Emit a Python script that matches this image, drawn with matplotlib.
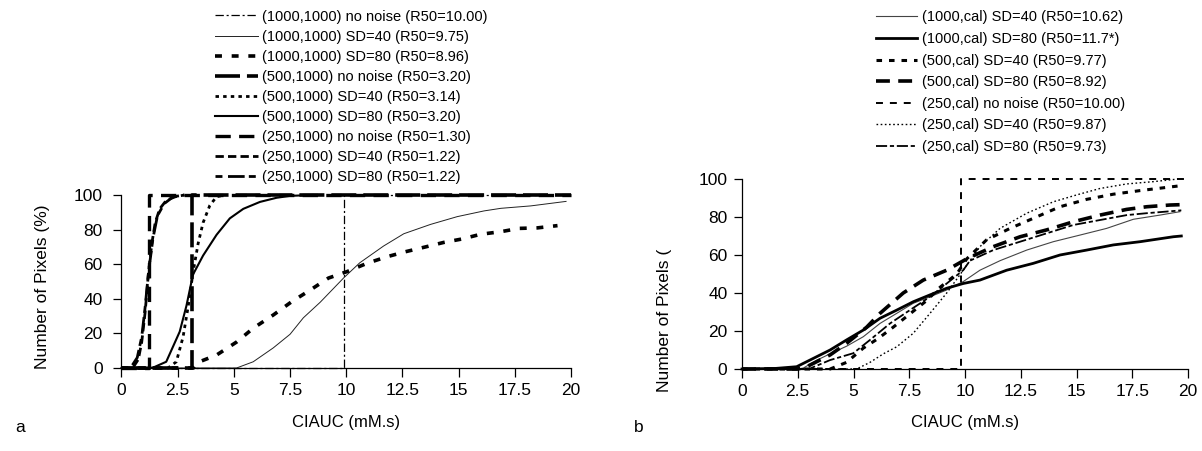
import matplotlib
matplotlib.use("Agg")
import matplotlib.pyplot as plt

plt.rcParams['font.family'] = ['Liberation Sans', 'DejaVu Sans']
plt.rcParams['lines.scale_dashes'] = False

# ---------------- Panel a data ----------------
a_labels = [
    "(1000,1000) no noise (R50=10.00)",
    "(1000,1000) SD=40 (R50=9.75)",
    "(1000,1000) SD=80 (R50=8.96)",
    "(500,1000) no noise (R50=3.20)",
    "(500,1000) SD=40 (R50=3.14)",
    "(500,1000) SD=80 (R50=3.20)",
    "(250,1000) no noise (R50=1.30)",
    "(250,1000) SD=40 (R50=1.22)",
    "(250,1000) SD=80 (R50=1.22)",
]
a1000_nn_x = [0, 9.88, 9.88, 20]
a1000_nn_y = [0, 0, 100, 100]
a1000_40_x = [0, 4.5, 5.12, 5.86, 6.75, 7.5, 8.09, 8.84, 9.88, 10.6, 11.66, 12.56, 13.75, 14.94, 16.13, 16.88, 18.21, 19.78]
a1000_40_y = [0, 0, 0, 3.6, 11.6, 19.5, 29, 38, 52, 60.8, 70.5, 77.6, 83, 87.5, 90.8, 92.3, 93.7, 96.3]
a1000_80_x = [0, 3.2, 3.41, 4.23, 5.12, 5.86, 6.75, 7.57, 8.39, 9.21, 10.03, 10.92, 11.81, 12.63, 13.53, 14.34, 15.16, 15.98, 16.88, 17.69, 18.51, 19.4]
a1000_80_y = [0, 0, 3.3, 7.5, 15, 23, 30.6, 38.3, 45, 52, 55.7, 60.5, 64.3, 67.2, 70, 72.6, 74.6, 77.3, 78.8, 80.7, 81, 82.3]
a500_nn_x = [0, 3.15, 3.15, 20]
a500_nn_y = [0, 0, 100, 100]
a500_40_x = [0, 2.07, 2.44, 2.74, 2.96, 3.18, 3.41, 3.63, 3.93, 4.23, 4.6]
a500_40_y = [0, 0, 3.6, 18, 35, 55, 72, 84, 94, 99, 100]
a500_80_x = [0, 1.0, 1.4, 1.99, 2.59, 2.89, 3.18, 3.63, 4.23, 4.82, 5.42, 6.16, 6.9, 7.5, 8.5]
a500_80_y = [0, 0, 0.2, 3.6, 21, 36, 54, 65, 77, 86.5, 92, 96, 98.4, 99.5, 100]
a250_nn_x = [0, 1.22, 1.22, 20]
a250_nn_y = [0, 0, 100, 100]
a250_40_x = [0, 0.5, 0.75, 0.9, 1.05, 1.2, 1.35, 1.5, 1.7, 2.0, 2.4, 2.8]
a250_40_y = [0, 0, 5, 15, 32, 55, 72, 84, 92, 97, 99, 100]
a250_80_x = [0, 0.4, 0.7, 0.9, 1.05, 1.2, 1.4, 1.6, 1.9, 2.3, 2.8]
a250_80_y = [0, 0, 6, 18, 35, 55, 75, 88, 95, 99, 100]

# ---------------- Panel b data ----------------
b_labels = [
    "(1000,cal) SD=40 (R50=10.62)",
    "(1000,cal) SD=80 (R50=11.7*)",
    "(500,cal) SD=40 (R50=9.77)",
    "(500,cal) SD=80 (R50=8.92)",
    "(250,cal) no noise (R50=10.00)",
    "(250,cal) SD=40 (R50=9.87)",
    "(250,cal) SD=80 (R50=9.73)",
]
b1000_40_x = [0, 2.5, 2.75, 3.35, 3.95, 4.69, 5.44, 6.19, 6.94, 7.68, 8.43, 9.18, 9.92, 10.67, 11.57, 12.77, 13.96, 15.16, 16.35, 17.55, 18.74, 19.64]
b1000_40_y = [0, 0, 0.5, 4.6, 8, 12, 17, 24, 29.3, 34.6, 38, 41.6, 46, 52, 57, 62.6, 67, 70.5, 74, 78.8, 81, 82.8]
b1000_80_x = [0, 1.5, 2.45, 3.2, 3.95, 4.69, 5.44, 6.19, 6.94, 7.68, 8.43, 9.18, 9.92, 10.67, 11.87, 13.06, 14.26, 15.46, 16.65, 17.85, 19.34, 19.7]
b1000_80_y = [0, 0.3, 1.2, 5.6, 10, 15.3, 20.5, 26.7, 31, 35.4, 39, 42.5, 45, 46.8, 52, 55.6, 60, 62.6, 65.3, 67, 69.6, 70]
b500_40_x = [0, 3.95, 4.69, 5.44, 6.1, 6.78, 7.53, 8.28, 8.88, 9.63, 10.08, 10.97, 12.02, 13.06, 14.26, 15.46, 16.65, 17.85, 19.34, 19.7]
b500_40_y = [0, 0, 3.5, 11, 16, 22, 29, 36, 43, 50, 58, 68, 74, 79.3, 85.4, 89.3, 92, 93.9, 96, 96.5]
b500_80_x = [0, 2.5, 2.9, 3.95, 4.69, 5.59, 6.19, 7.23, 8.13, 9.18, 10.08, 11.27, 12.47, 13.66, 14.86, 16.05, 17.25, 18.15, 19.19, 19.7]
b500_80_y = [0, 0, 1.2, 7.4, 13.5, 22, 29.3, 40, 46.8, 52, 58, 64.4, 69.6, 73.2, 77.5, 81, 84, 85.4, 86.3, 86.5]
b250_nn_x = [0, 9.8, 9.8, 20]
b250_nn_y = [0, 0, 100, 100]
b250_40_x = [0, 5.14, 5.74, 6.34, 6.94, 7.68, 8.43, 9.18, 9.92, 10.67, 11.57, 12.77, 13.96, 15.0, 16.05, 17.25, 18.44, 19.57]
b250_40_y = [0, 0, 3.5, 8, 11.7, 18.8, 29.3, 40, 52, 64.4, 74, 82, 88, 91.6, 95, 97.4, 98.6, 100]
b250_80_x = [0, 3.0, 3.95, 4.99, 5.74, 6.64, 7.53, 8.43, 9.18, 9.92, 10.22, 11.27, 12.47, 13.66, 14.86, 16.05, 17.25, 18.15, 19.5, 19.7]
b250_80_y = [0, 0, 4.7, 8.3, 15.3, 24, 31, 38, 45, 52, 57, 62.6, 67, 71.4, 75.8, 78.4, 81, 82, 83.3, 83.5]

x_ticks = [0, 2.5, 5, 7.5, 10, 12.5, 15, 17.5, 20]
x_ticklabels = ["0", "2.5", "5", "7.5", "10", "12.5", "15", "17.5", "20"]
y_ticks = [0, 20, 40, 60, 80, 100]

W, H = 1202, 451
fig = plt.figure(figsize=(W / 100, H / 100), dpi=100)

def px_axes(l, r, top, bottom):
    return fig.add_axes([l / W, 1 - bottom / H, (r - l) / W, (bottom - top) / H])

axa = px_axes(121.5, 571, 195, 368)
axb = px_axes(742, 1188, 179, 369)

def style(ax, ypad):
    for s in ('top', 'right'):
        ax.spines[s].set_visible(False)
    for s in ('left', 'bottom'):
        ax.spines[s].set_linewidth(0.9)
    ax.set_xlim(0, 20)
    ax.set_ylim(0, 100)
    ax.set_xticks(x_ticks)
    ax.set_xticklabels(x_ticklabels)
    ax.set_yticks(y_ticks)
    ax.tick_params(axis='x', direction='out', length=6.5, width=0.9, pad=4, labelsize=12.5)
    ax.tick_params(axis='y', direction='out', length=5.5, width=0.9, pad=ypad, labelsize=12.5)
    ax.patch.set_visible(False)

style(axa, 8)
style(axb, 5)

k = 'k'
la = []
la.append(axa.plot(a1000_nn_x, a1000_nn_y, color=k, lw=0.9, ls=(0, (6, 2, 1.5, 2)), clip_on=False)[0])
la.append(axa.plot(a1000_40_x, a1000_40_y, color='#222222', lw=0.7, ls='-', clip_on=False)[0])
la.append(axa.plot(a1000_80_x, a1000_80_y, color=k, lw=2.6, ls=(0, (5, 7)), clip_on=False)[0])
la.append(axa.plot(a500_nn_x, a500_nn_y, color=k, lw=2.6, ls=(0, (18, 5)), clip_on=False, zorder=3)[0])
la.append(axa.plot(a500_40_x, a500_40_y, color=k, lw=2.0, ls=(0, (2.5, 3)), clip_on=False)[0])
la.append(axa.plot(a500_80_x, a500_80_y, color=k, lw=1.5, ls='-', clip_on=False)[0])
la.append(axa.plot(a250_nn_x, a250_nn_y, color=k, lw=2.4, ls=(0, (11, 6)), clip_on=False)[0])
la.append(axa.plot(a250_40_x, a250_40_y, color=k, lw=2.0, ls=(0, (6, 3)), clip_on=False)[0])
la.append(axa.plot(a250_80_x, a250_80_y, color=k, lw=2.0, ls=(0, (5, 4, 12, 3)), clip_on=False)[0])

lb = []
lb.append(axb.plot(b1000_40_x, b1000_40_y, color='#444444', lw=0.8, ls='-', clip_on=False)[0])
lb.append(axb.plot(b1000_80_x, b1000_80_y, color=k, lw=2.0, ls='-', clip_on=False)[0])
lb.append(axb.plot(b500_40_x, b500_40_y, color=k, lw=2.2, ls=(0, (4, 5)), clip_on=False)[0])
lb.append(axb.plot(b500_80_x, b500_80_y, color=k, lw=2.6, ls=(0, (10, 6)), clip_on=False)[0])
lb.append(axb.plot(b250_nn_x, b250_nn_y, color=k, lw=1.4, ls=(0, (5, 5)), clip_on=False)[0])
lb.append(axb.plot(b250_40_x, b250_40_y, color=k, lw=1.0, ls=(0, (1.2, 1.8)), clip_on=False)[0])
lb.append(axb.plot(b250_80_x, b250_80_y, color=k, lw=1.3, ls=(0, (8, 2, 3, 2)), clip_on=False)[0])

fs_leg = 10.5
axa.legend(la, a_labels, loc='upper left', bbox_to_anchor=(215 / W, 1 - 9.5 / H),
           bbox_transform=fig.transFigure, frameon=False, fontsize=fs_leg,
           borderaxespad=0, borderpad=0, handlelength=2.95, handletextpad=0.27,
           labelspacing=0.42)
axb.legend(lb, b_labels, loc='upper left', bbox_to_anchor=(876 / W, 1 - 10.5 / H),
           bbox_transform=fig.transFigure, frameon=False, fontsize=fs_leg,
           borderaxespad=0, borderpad=0, handlelength=2.8, handletextpad=0.34,
           labelspacing=0.52)

axa.set_xlabel("CIAUC (mM.s)", fontsize=12, va='center')
axa.xaxis.set_label_coords(0.5, (368 - 422) / 173)
axb.set_xlabel("CIAUC (mM.s)", fontsize=12, va='center')
axb.xaxis.set_label_coords(0.5, (369 - 422) / 190)
axa.set_ylabel("Number of Pixels (%)", fontsize=12.5, va='center')
axa.yaxis.set_label_coords((43 - 121.5) / 449.5, 0.47)
axb.set_ylabel("Number of Pixels (", fontsize=12.5, va='center')
axb.yaxis.set_label_coords((665 - 742) / 446, (369 - 320) / 190)

fig.text(15 / W, 1 - 428 / H, "a", fontsize=12.5, ha='left', va='center')
fig.text(634 / W, 1 - 428 / H, "b", fontsize=12.5, ha='left', va='center')

fig.savefig("out.png", dpi=100)
